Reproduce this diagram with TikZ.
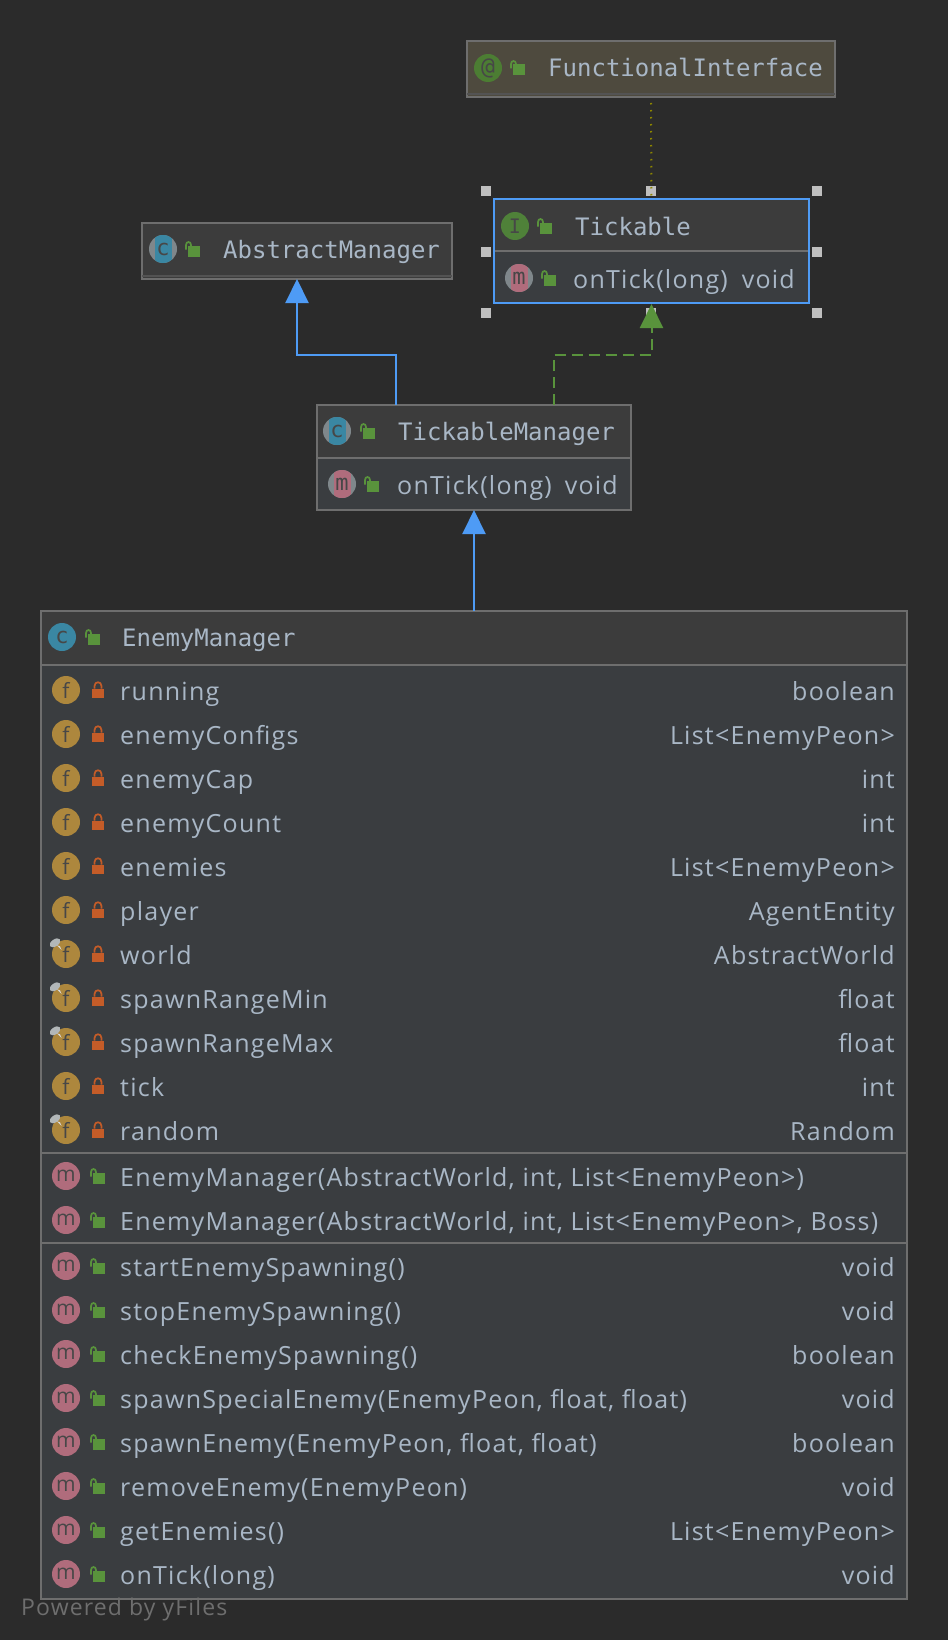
\documentclass[tikz,border=0pt]{standalone}
\usepackage{fontspec}
\setmainfont[LetterSpace=5]{Open Sans}
\newfontfamily\titlefont{DejaVu Sans Mono}
\usepackage{xcolor}
\usepackage{tikz}
\usetikzlibrary{arrows.meta,positioning}

\definecolor{canvasbg}{HTML}{2B2B2B}
\definecolor{headfill}{HTML}{3C3C3C}
\definecolor{bodyfill}{HTML}{3A3D40}
\definecolor{annofill}{HTML}{4E4A3E}
\definecolor{edgegray}{HTML}{6E6E6E}
\definecolor{labeltext}{HTML}{A9B7C6}
\definecolor{lockgreen}{HTML}{59933C}
\definecolor{lockred}{HTML}{C45C28}
\definecolor{fieldtan}{HTML}{AD873D}
\definecolor{methodpink}{HTML}{B06C7C}
\definecolor{classteal}{HTML}{3A87A3}
\definecolor{ifacegreen}{HTML}{4F8139}
\definecolor{linkblue}{HTML}{4E9BF5}
\definecolor{ringgray}{HTML}{7F878B}

\tikzset{
  openlock/.pic={
    \fill[lockgreen] (-5,-3.5) rectangle (7,7.5);
    \draw[lockgreen, line width=1.7pt] (-7,0.5) -- (-7,-4) .. controls (-7,-8) and (-2,-8) .. (-2,-4) -- (-2,-3);
  },
  shutlock/.pic={
    \fill[lockred] (-6,-1.5) rectangle (6,8);
    \draw[lockred, line width=1.7pt] (-3.5,-1.5) -- (-3.5,-4) .. controls (-3.5,-9) and (3.5,-9) .. (3.5,-4) -- (3.5,-1.5);
  },
  finalpin/.pic={
    \fill[ringgray!60!white, rotate=35] (0,0) ellipse (6pt and 3.5pt);
    \fill[white!85!black] (2,2.5) -- (5,3.5) -- (6.5,7) -- cycle;
  }
}

% one row of the member lists
\newcommand{\memberrow}[7]{%
  \node[#3] (#1Icon) at (66,#2) {#4};
  \pic at (98,#2) {#5};
  \node[membertext] (#1Name) at (120,#2+10) {#6};
  \node[typetext] (#1Type) at (895,#2+10) {#7};
}

% icon with a coloured band over a gray ring
\newcommand{\bandicon}[5]{%
  \node[icon, fill=ringgray] (#1Ring) at (#2,#3) {};
  \begin{scope}
    \clip (#1Ring.center) circle (14);
    \fill[#4] ([xshift=-8.5pt]#1Ring.north) rectangle ([xshift=8.5pt]#1Ring.south);
  \end{scope}
  \node[icon, font=\titlefont\fontsize{22}{24}\selectfont] (#1) at (#1Ring) {#5};
}

\begin{document}
\begin{tikzpicture}[
  x=1pt, y=-1pt,
  umlbox/.style={draw=edgegray, line width=2pt, inner sep=0pt, outer sep=0pt},
  head/.style={umlbox, fill=headfill},
  body/.style={umlbox, fill=bodyfill},
  icon/.style={circle, inner sep=0pt, minimum size=28pt, text=black!72, font=\fontsize{21}{24}\selectfont},
  fieldicon/.style={icon, fill=fieldtan},
  methodicon/.style={icon, fill=methodpink},
  classicon/.style={icon, fill=classteal, font=\titlefont\fontsize{22}{24}\selectfont},
  titletext/.style={anchor=west, inner sep=0pt, text=labeltext, text height=20pt, text depth=2pt, font=\titlefont\fontsize{24}{28}\selectfont},
  membertext/.style={anchor=base west, inner sep=0pt, text=labeltext, font=\fontsize{25}{30}\selectfont},
  typetext/.style={anchor=base east, inner sep=0pt, text=labeltext, font=\fontsize{25}{30}\selectfont},
  handle/.style={fill=white!75!black, inner sep=0pt, minimum size=10pt},
  extends/.style={-{Triangle[length=24pt, width=23pt]}, linkblue, line width=2pt},
  implements/.style={-{Triangle[length=24pt, width=23pt]}, lockgreen, line width=2pt, dash pattern=on 11pt off 6pt},
  annotated/.style={draw=olive, line width=2pt, dash pattern=on 1.5pt off 5.5pt, shorten <=6pt, shorten >=3pt}
]
\path[use as bounding box, fill=canvasbg] (0,0) rectangle (948,1640);

% handles round the selected box
\node[handle] (hNW) at (486,191) {};
\node[handle] (hN) at (651,191) {};
\node[handle] (hNE) at (817,191) {};
\node[handle] (hW) at (486,252) {};
\node[handle] (hE) at (817,252) {};
\node[handle] (hSW) at (486,313) {};
\node[handle] (hS) at (651,313) {};
\node[handle] (hSE) at (817,313) {};

% boxes
\node[umlbox, fill=annofill, minimum width=368pt, minimum height=56pt] (funcIface) at (651,69) {};
\node[head, draw=linkblue, minimum width=315pt, minimum height=52pt] (tickHead) at (651.5,225) {};
\node[body, draw=linkblue, minimum width=315pt, minimum height=52pt, below=0pt of tickHead] (tickBody) {};
\draw[edgegray, line width=2pt, shorten <=1pt, shorten >=1pt] (tickBody.north west) -- (tickBody.north east);
\node[head, minimum width=310pt, minimum height=56pt] (abstractMgr) at (297,251) {};
\node[head, minimum width=314pt, minimum height=53pt] (mgrHead) at (474,431.5) {};
\node[body, minimum width=314pt, minimum height=52pt, below=0pt of mgrHead] (mgrBody) {};
\node[head, minimum width=866pt, minimum height=54pt] (enemyHead) at (474,638) {};
\node[body, minimum width=866pt, minimum height=488pt, below=0pt of enemyHead] (enemyFields) {};
\node[body, minimum width=866pt, minimum height=90pt, below=0pt of enemyFields] (enemyCtors) {};
\node[body, minimum width=866pt, minimum height=356pt, below=0pt of enemyCtors] (enemyMethods) {};

% thick lower edge of the one-row boxes
\draw[edgegray!75!black, line width=2pt] ([yshift=3pt]funcIface.south west) -- ([yshift=3pt]funcIface.south east);
\draw[edgegray!75!black, line width=2pt] ([yshift=3pt]abstractMgr.south west) -- ([yshift=3pt]abstractMgr.south east);

% connectors
\coordinate (mgrLeft) at ([xshift=-78.5pt]mgrHead.north);
\coordinate (mgrRight) at ([xshift=79.5pt]mgrHead.north);
\draw[annotated] (funcIface.south) -- (tickHead.north);
\draw[extends] (mgrLeft) -- ++(0,-50) -| (abstractMgr.south);
\draw[implements] (mgrRight) -- ++(0,-50) -| ([yshift=-1pt]tickBody.south);
\draw[extends] (enemyHead.north) -- (mgrBody.south);

% box titles
\node[icon, fill=lockgreen!85!black, font=\titlefont\fontsize{23}{24}\selectfont] (funcIcon) at (488,68) {@};
\pic at (518,68) {openlock};
\node[titletext] (funcName) at (548,68) {FunctionalInterface};

\node[icon, fill=ifacegreen, font=\titlefont\fontsize{20}{24}\selectfont] (tickIcon) at (515,226) {I};
\pic at (545,226) {openlock};
\node[titletext] (tickName) at (575,226) {Tickable};
\bandicon{tickMIcon}{519}{278}{methodpink}{m}
\pic at (549,278) {openlock};
\node[membertext] (tickMName) at (573,288) {onTick(long)};
\node[typetext] (tickMType) at (795,288) {void};

\bandicon{absIcon}{163}{249}{classteal}{c}
\pic at (193,249) {openlock};
\node[titletext] (absName) at (223,249) {AbstractManager};

\bandicon{mgrIcon}{337}{431}{classteal}{c}
\pic at (368,431) {openlock};
\node[titletext] (mgrName) at (398,431) {TickableManager};
\bandicon{mgrMIcon}{342}{484}{methodpink}{m}
\pic at (372,484) {openlock};
\node[membertext] (mgrMName) at (397,494) {onTick(long)};
\node[typetext] (mgrMType) at (618,494) {void};

\node[classicon] (enemyIcon) at (62,637) {c};
\pic at (93,637) {openlock};
\node[titletext] (enemyName) at (122,637) {EnemyManager};

% fields
\memberrow{running}{690}{fieldicon}{f}{shutlock}{running}{boolean}
\memberrow{configs}{734}{fieldicon}{f}{shutlock}{enemyConfigs}{List<EnemyPeon>}
\memberrow{cap}{778}{fieldicon}{f}{shutlock}{enemyCap}{int}
\memberrow{count}{822}{fieldicon}{f}{shutlock}{enemyCount}{int}
\memberrow{enemies}{866}{fieldicon}{f}{shutlock}{enemies}{List<EnemyPeon>}
\memberrow{player}{910}{fieldicon}{f}{shutlock}{player}{AgentEntity}
\memberrow{world}{954}{fieldicon}{f}{shutlock}{world}{AbstractWorld}
\memberrow{rangeMin}{998}{fieldicon}{f}{shutlock}{spawnRangeMin}{float}
\memberrow{rangeMax}{1042}{fieldicon}{f}{shutlock}{spawnRangeMax}{float}
\memberrow{tick}{1086}{fieldicon}{f}{shutlock}{tick}{int}
\memberrow{random}{1130}{fieldicon}{f}{shutlock}{random}{Random}
\pic at ([shift={(-11pt,-3pt)}]worldIcon.north) {finalpin};
\pic at ([shift={(-11pt,-3pt)}]rangeMinIcon.north) {finalpin};
\pic at ([shift={(-11pt,-3pt)}]rangeMaxIcon.north) {finalpin};
\pic at ([shift={(-11pt,-3pt)}]randomIcon.north) {finalpin};

% constructors
\memberrow{ctorA}{1176}{methodicon}{m}{openlock}{EnemyManager(AbstractWorld, int, List<EnemyPeon>)}{}
\memberrow{ctorB}{1220}{methodicon}{m}{openlock}{EnemyManager(AbstractWorld, int, List<EnemyPeon>, Boss)}{}

% methods
\memberrow{startSpawn}{1266}{methodicon}{m}{openlock}{startEnemySpawning()}{void}
\memberrow{stopSpawn}{1310}{methodicon}{m}{openlock}{stopEnemySpawning()}{void}
\memberrow{checkSpawn}{1354}{methodicon}{m}{openlock}{checkEnemySpawning()}{boolean}
\memberrow{special}{1398}{methodicon}{m}{openlock}{spawnSpecialEnemy(EnemyPeon, float, float)}{void}
\memberrow{spawn}{1442}{methodicon}{m}{openlock}{spawnEnemy(EnemyPeon, float, float)}{boolean}
\memberrow{remove}{1486}{methodicon}{m}{openlock}{removeEnemy(EnemyPeon)}{void}
\memberrow{getter}{1530}{methodicon}{m}{openlock}{getEnemies()}{List<EnemyPeon>}
\memberrow{onTick}{1574}{methodicon}{m}{openlock}{onTick(long)}{void}

\node[anchor=base west, inner sep=0pt, text=edgegray, font=\fontsize{23}{26}\selectfont] (powered) at (21,1615) {Powered by yFiles};
\end{tikzpicture}
\end{document}
